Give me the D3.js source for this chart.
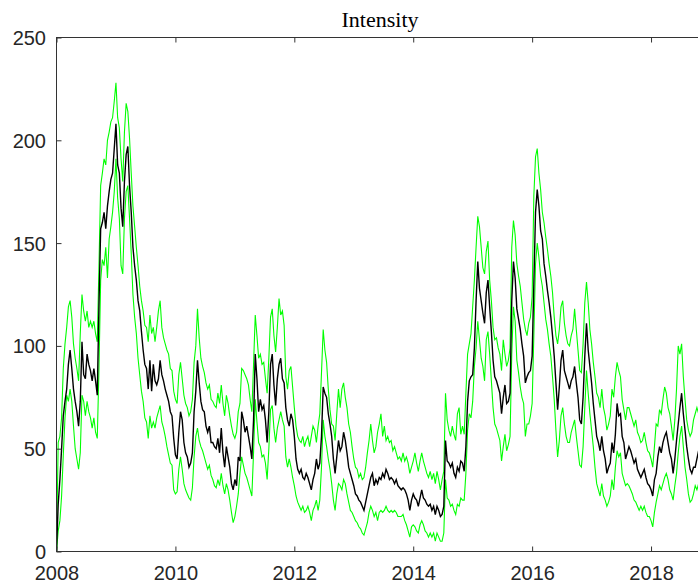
<!DOCTYPE html>
<html><head><meta charset="utf-8">
<script src="https://cdn.jsdelivr.net/npm/d3@7"></script>
<style>body{margin:0;background:#fff}svg{display:block}</style>
</head><body>
<svg id="c" width="698" height="586"></svg>
<script>
const startYear = 2008, stepsPerYear = 35;
const title = "Intensity";
const xTicks = [2008, 2010, 2012, 2014, 2016, 2018];
const yTicks = [0, 50, 100, 150, 200, 250];

const intensity = [
0,23,35,50,66,73,79,91,98,89,79,73,68,61,73,102,86,84,96,91,88,83,89,83,76,120,157,160,165,157,
168,175,181,184,196,208,188,184,167,158,180,193,197,178,165,148,139,132,122,117,107,98,91,89,79,93,78,91,83,81,
84,93,86,83,79,76,73,68,66,
55,47,45,58,68,64,53,48,46,41,43,48,68,78,93,82,73,69,68,61,58,61,53,53,51,50,55,48,60,48,
41,51,46,41,33,30,35,32,46,44,68,64,58,61,56,51,45,64,96,84,68,74,69,71,64,53,68,91,96,81,
71,84,91,94,84,82,
70,64,61,67,64,56,45,40,38,40,36,35,38,36,33,30,35,38,45,40,43,56,80,77,75,67,62,56,45,38,
46,54,49,51,58,54,48,41,38,35,32,28,27,25,24,22,20,24,28,32,36,38,32,35,33,36,35,38,36,40,
38,35,36,35,33,35,32,31,
30,31,30,28,25,20,25,28,26,25,22,26,30,26,25,23,22,23,20,22,18,22,20,17,18,22,54,44,43,41,
43,38,36,41,39,44,43,39,51,73,83,85,86,99,122,141,128,122,116,111,126,132,119,107,93,85,83,80,77,67,
75,81,72,73,77,122,141,133,
118,113,108,101,95,82,85,87,88,95,130,165,176,168,156,152,140,134,127,121,114,105,95,82,69,80,93,98,88,85,
82,79,83,85,90,82,75,64,62,75,95,111,98,90,82,72,64,56,53,49,56,49,45,38,41,43,53,48,57,72,66,
67,56,53,45,48,51,49,46,43,45,40,38,36,38,40,36,33,32,30,27,35,38,46,51,48,53,56,58,53,48,
45,38,45,54,62,70,77,67,59,51,45,40,38,41,41,45,49
];

const upperBand = [
0,53,56,65,89,101,109,119,122,114,101,94,89,83,106,125,117,112,117,109,112,109,112,106,102,139,178,184,191,188,
200,204,209,211,219,228,211,206,191,180,204,218,214,201,184,168,158,148,139,129,122,117,110,109,102,115,106,109,102,109,
117,122,109,104,101,98,96,89,88,
78,74,72,86,92,84,76,72,70,66,68,74,92,100,118,104,94,90,87,82,79,81,74,73,71,70,77,72,81,72,
66,76,72,66,61,57,55,58,68,72,89,88,86,84,81,74,68,91,115,105,94,96,91,92,84,77,94,114,118,105,
97,109,123,115,117,110,
85,79,88,90,80,70,61,56,54,53,56,51,54,56,51,56,61,59,53,61,67,87,108,98,92,79,69,62,61,54,
67,79,70,79,82,75,70,62,58,51,45,41,40,36,38,35,36,41,48,54,62,54,48,51,58,62,67,56,61,54,
56,53,54,49,51,48,45,46,
44,48,44,46,43,38,41,44,48,43,39,44,48,44,41,38,36,39,35,38,33,39,35,30,35,39,77,64,59,56,
61,57,54,67,70,57,61,57,77,96,101,106,119,132,148,163,158,148,138,135,146,151,132,122,109,103,104,99,96,88,
103,96,90,93,99,148,161,154,
140,134,129,121,113,108,105,111,114,124,173,192,196,184,176,165,160,153,147,140,134,126,114,105,101,108,119,122,111,105,
101,100,105,108,118,108,98,88,87,101,121,131,121,108,101,92,85,77,75,70,79,70,66,59,62,66,79,75,85,92,88,
85,74,69,64,70,70,67,64,61,64,58,56,53,54,58,53,49,48,45,41,51,62,61,69,67,74,80,77,70,67,
61,54,64,79,100,96,101,85,74,64,59,56,58,64,67,70,67
];

const lowerBand = [
0,10,15,27,47,65,76,73,79,73,61,50,45,40,48,76,73,66,73,68,65,60,65,58,55,89,132,142,139,148,
133,152,158,165,175,191,172,162,139,135,162,175,178,162,145,125,114,106,94,86,78,73,65,63,55,66,60,63,60,65,
68,71,63,60,56,51,47,43,42,
30,28,29,40,46,40,33,30,28,26,25,31,46,56,60,54,51,49,46,43,40,42,37,35,32,31,35,32,38,32,
28,33,30,25,19,14,17,22,28,38,46,42,38,36,33,30,27,48,74,63,53,51,46,47,43,35,50,69,71,60,
53,60,64,68,64,61,
46,41,45,41,36,32,27,24,22,20,22,19,20,22,19,15,20,22,25,20,25,41,64,56,51,45,40,33,25,20,
28,33,32,30,35,33,28,24,20,19,17,15,14,12,11,9,8,11,14,19,22,20,17,19,15,19,20,19,20,22,
20,19,20,19,20,19,17,17,
17,18,15,13,10,7,12,13,12,10,9,13,15,13,10,9,7,9,7,9,5,9,7,5,5,9,35,26,25,22,
23,20,18,23,22,26,25,25,38,59,67,65,73,90,99,112,103,94,90,83,103,107,96,83,70,62,60,57,54,44,
51,57,49,52,56,96,119,112,
93,87,80,75,72,56,62,62,66,72,105,140,150,143,134,129,121,113,108,101,95,85,74,59,46,54,66,70,62,56,
53,53,58,61,64,56,49,42,41,51,70,88,77,67,59,51,41,33,30,27,33,27,25,22,24,27,35,30,41,49,46,
48,38,35,32,33,32,30,28,25,24,22,20,22,20,22,19,17,17,15,12,19,24,28,32,30,33,36,38,35,30,
28,25,32,38,48,56,61,51,41,35,28,24,25,28,32,30,33
];

const time = intensity.map((_, i) => startYear + i / stepsPerYear);

const svg = d3.select("#c");
const L = 56.5, R = 710.5, T = 37.5, B = 551.5;
const x = d3.scaleLinear().domain([2008, 2019]).range([L, R]);
const y = d3.scaleLinear().domain([0, 250]).range([B, T]);
const axisColor = "#333";
const tickFont = "'Liberation Sans', Arial, Helvetica, sans-serif";

svg.append("defs").append("clipPath").attr("id", "clip")
  .append("rect").attr("x", L).attr("y", T).attr("width", R - L).attr("height", B - T);

const g = svg.append("g").attr("clip-path", "url(#clip)");
const line = vals => d3.line().x((d, i) => x(time[i])).y(d => y(d))(vals);

g.append("path").attr("d", line(upperBand)).attr("fill", "none").attr("stroke", "#00ff00").attr("stroke-width", 1.1);
g.append("path").attr("d", line(lowerBand)).attr("fill", "none").attr("stroke", "#00ff00").attr("stroke-width", 1.1);
g.append("path").attr("d", line(intensity)).attr("fill", "none").attr("stroke", "#000").attr("stroke-width", 1.4);

// box
svg.append("rect").attr("x", L).attr("y", T).attr("width", R - L).attr("height", B - T)
  .attr("fill", "none").attr("stroke", axisColor).attr("stroke-width", 1);

// left axis
const ax = svg.append("g").attr("transform", `translate(${L},0)`)
  .call(d3.axisLeft(y).tickValues(yTicks).tickSizeInner(-5).tickSizeOuter(0).tickPadding(10));
// bottom axis
const bx = svg.append("g").attr("transform", `translate(0,${B})`)
  .call(d3.axisBottom(x).tickValues(xTicks).tickFormat(d3.format("d")).tickSizeInner(-5).tickSizeOuter(0).tickPadding(10));
// top axis (mirrored ticks)
const tx = svg.append("g").attr("transform", `translate(0,${T})`)
  .call(d3.axisTop(x).tickValues(xTicks).tickFormat("").tickSizeInner(-5).tickSizeOuter(0));

[ax, bx, tx].forEach(a => {
  a.select(".domain").remove();
  a.selectAll(".tick line").attr("stroke", axisColor);
  a.selectAll("text").attr("fill", "#262626").style("font-family", tickFont).style("font-size", "20px");
});
ax.selectAll("text").attr("x", -10.5).attr("dy", "0.35em");
bx.selectAll("text").attr("y", 28.5).attr("dy", "0");

svg.append("text").attr("x", 380).attr("y", 27).attr("text-anchor", "middle")
  .style("font-family", "'Liberation Serif', 'Times New Roman', serif").style("font-size", "22px")
  .attr("fill", "#000").text(title);
</script>
</body></html>
